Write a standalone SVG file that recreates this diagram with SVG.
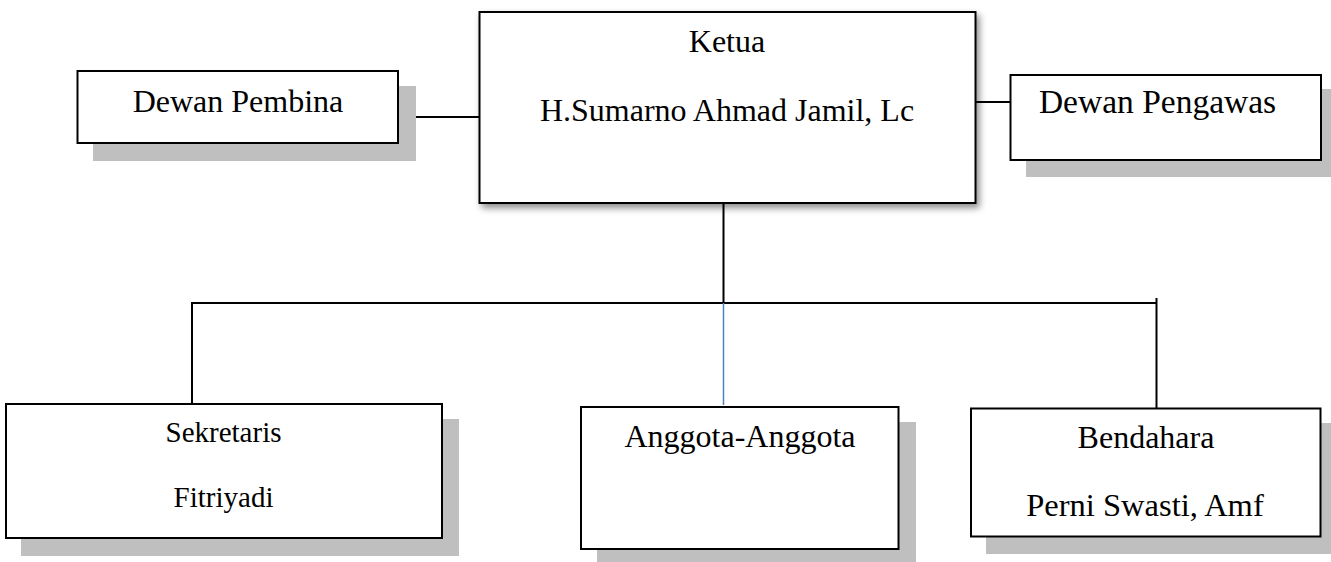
<svg xmlns="http://www.w3.org/2000/svg" width="1331" height="562" viewBox="0 0 1331 562">
<style>
.box{fill:#fff;stroke:#000;stroke-width:2}
.sh{fill:#bfbfbf}
.t{font-family:"Liberation Serif","Times New Roman",serif;font-size:32px;fill:#000;text-anchor:middle}
.s{font-size:29px}
.c{stroke:#000;stroke-width:2;fill:none}
</style>
<defs>
<filter id="soft" x="-10%" y="-10%" width="130%" height="130%">
<feDropShadow dx="3" dy="4" stdDeviation="3.5" flood-color="#000" flood-opacity="0.45"/>
</filter>
</defs>
<rect width="1331" height="562" fill="#fff"/>
<g id="connectors">
<line class="c" x1="398" y1="117" x2="480" y2="117"/>
<line class="c" x1="975" y1="102" x2="1010" y2="102"/>
<line class="c" x1="723.5" y1="203" x2="723.5" y2="303"/>
<line class="c" x1="191" y1="303" x2="1157" y2="303"/>
<line class="c" x1="192" y1="303" x2="192" y2="404"/>
<line class="c" x1="1156.5" y1="298" x2="1156.5" y2="408"/>
<line x1="723.5" y1="303" x2="723.5" y2="405" stroke="#4f81bd" stroke-width="1.5"/>
</g>
<g id="dewan-pembina">
<rect class="sh" x="93" y="86" width="323" height="75"/>
<rect class="box" x="77.5" y="71" width="320.5" height="72"/>
<text class="t" x="238" y="112">Dewan Pembina</text>
</g>
<g id="ketua">
<rect class="box" x="479.5" y="12" width="496" height="191" filter="url(#soft)"/>
<text class="t" x="727" y="52">Ketua</text>
<text class="t" x="727" y="121">H.Sumarno Ahmad Jamil, Lc</text>
</g>
<g id="dewan-pengawas">
<rect class="sh" x="1026" y="89" width="305" height="88"/>
<rect class="box" x="1010.5" y="75" width="310.5" height="85"/>
<text class="t" x="1157.5" y="113" style="font-size:33.5px">Dewan Pengawas</text>
</g>
<g id="sekretaris">
<rect class="sh" x="21" y="419" width="438" height="137"/>
<rect class="box" x="6" y="404" width="436" height="134"/>
<text class="t s" x="223.5" y="442">Sekretaris</text>
<text class="t s" x="223.5" y="507">Fitriyadi</text>
</g>
<g id="anggota">
<rect class="sh" x="597" y="422" width="319" height="140"/>
<rect class="box" x="581" y="407" width="317.5" height="142"/>
<text class="t" x="740" y="447">Anggota-Anggota</text>
</g>
<g id="bendahara">
<rect class="sh" x="986" y="423" width="345" height="131"/>
<rect class="box" x="971" y="408.5" width="349.5" height="128"/>
<text class="t" x="1146" y="448">Bendahara</text>
<text class="t" x="1145" y="516" style="font-size:32.5px">Perni Swasti, Amf</text>
</g>
</svg>
